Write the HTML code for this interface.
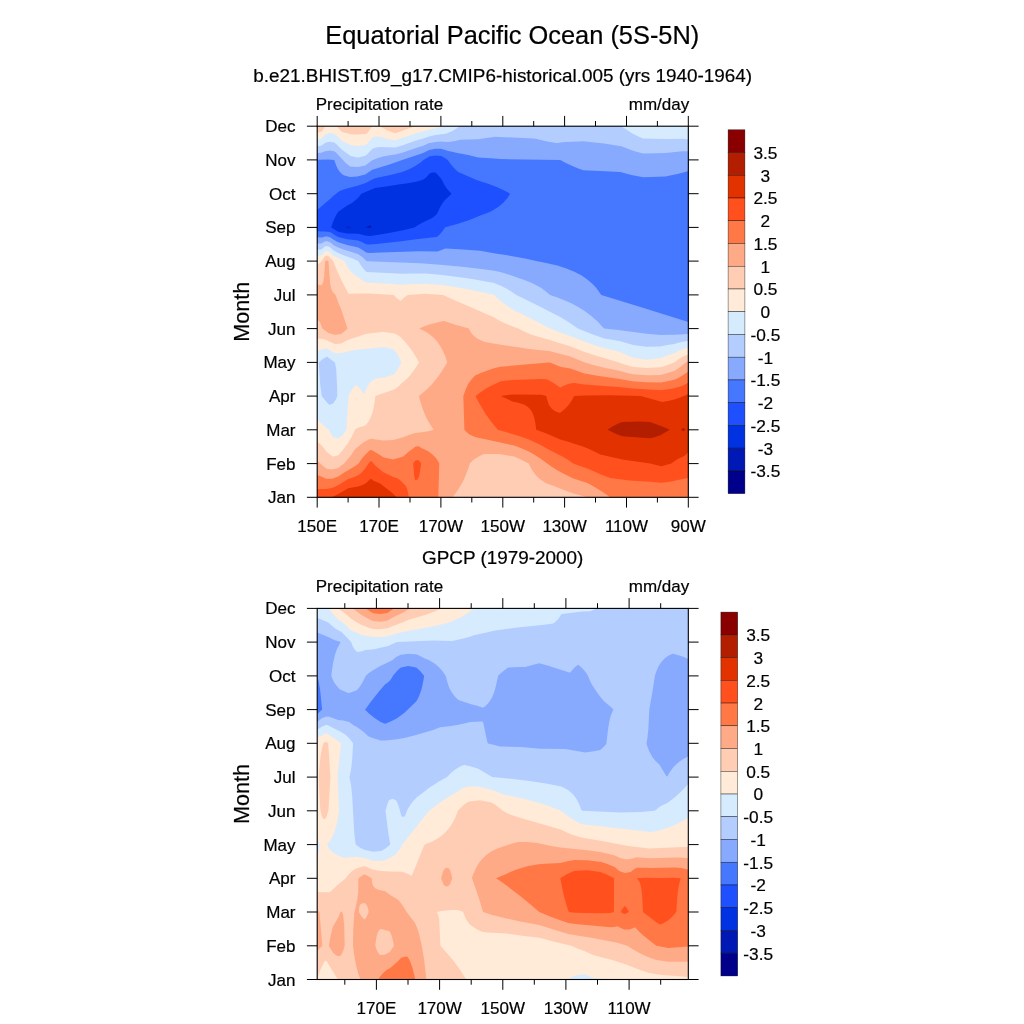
<!DOCTYPE html>
<html lang="en"><head><meta charset="utf-8"><title>Equatorial Pacific Ocean (5S-5N)</title>
<style>html,body{margin:0;padding:0;background:#fff}svg{display:block}</style></head><body>
<svg width="1024" height="1024" viewBox="0 0 1024 1024">
<rect width="1024" height="1024" fill="#fff"/>
<text x="512.3" y="43.9" text-anchor="middle" style="font-family:'Liberation Sans',Arial,Helvetica,sans-serif;stroke:#000;stroke-width:0.2px;font-size:25.4px">Equatorial Pacific Ocean (5S-5N)</text>
<text x="502.7" y="82.3" text-anchor="middle" style="font-family:'Liberation Sans',Arial,Helvetica,sans-serif;stroke:#000;stroke-width:0.2px;font-size:18.9px">b.e21.BHIST.f09_g17.CMIP6-historical.005 (yrs 1940-1964)</text>
<text x="502.7" y="564.4" text-anchor="middle" style="font-family:'Liberation Sans',Arial,Helvetica,sans-serif;stroke:#000;stroke-width:0.2px;font-size:18.9px">GPCP (1979-2000)</text>
<g>
<g shape-rendering="geometricPrecision">
<rect x="317.2" y="126.2" width="371.1" height="371.1" fill="#0019b4"/>
<path fill="#0032e1" fill-rule="evenodd" d="M317.2 497.3L688.3 497.3L688.3 126.2L317.2 126.2ZM348.2 227.6L345.9 227.4L347.2 226.7L348.2 226.7L351.7 227.4ZM365.2 227.4L369.2 225.8L370.2 225.6L371.7 227.4L370.2 227.7Z"/>
<path fill="#1e50ff" fill-rule="evenodd" d="M317.2 497.3L688.3 497.3L688.3 126.2L317.2 126.2ZM338.2 231.7L331.2 227.4L333.2 221.6L335.2 216.9L337.2 213.2L338.2 211.7L347.2 205.6L351.2 203.4L354.2 201.3L358.2 197.7L361.4 193.7L375.2 187.9L386.2 186.5L400.2 184.3L406.2 183.5L412.2 182.5L417.2 181.4L422.2 179.9L424.2 179.0L426.2 177.4L429.2 174.0L430.2 173.3L432.2 172.6L435.2 172.6L436.2 173.2L441.2 178.8L444.2 184.5L446.2 187.7L448.2 190.3L451.5 193.7L448.2 197.0L445.2 199.8L443.2 202.3L440.2 207.1L437.2 213.5L436.2 214.8L432.2 218.0L422.2 222.7L418.2 224.9L414.3 227.4L404.2 230.0L394.2 232.1L383.2 234.1L370.2 236.1L366.2 235.8L358.2 233.8L347.2 233.4Z"/>
<path fill="#4678ff" fill-rule="evenodd" d="M317.2 497.3L688.3 497.3L688.3 126.2L317.2 126.2L317.2 209.9L331.2 197.9L333.2 195.9L336.2 193.7L338.2 192.0L340.2 190.8L345.2 189.0L358.2 185.6L365.2 183.3L372.2 179.4L375.2 178.3L391.2 174.8L402.2 172.0L404.2 171.3L410.2 168.7L415.2 166.1L420.2 162.7L423.5 159.9L429.2 156.6L430.2 156.3L435.2 155.5L441.2 156.0L443.2 157.0L447.9 159.9L449.2 162.0L452.2 165.9L455.2 169.2L458.2 171.9L477.2 180.2L488.2 183.8L497.2 187.3L504.3 190.5L510.2 193.7L507.3 198.2L503.3 202.8L499.2 206.3L494.2 209.6L491.2 211.2L487.2 213.0L480.2 215.4L473.2 218.5L467.2 220.8L457.2 224.1L445.2 227.3L442.2 231.5L440.2 233.9L437.2 236.8L436.2 237.1L414.2 239.4L403.2 241.0L390.2 242.6L376.2 244.0L369.2 244.5L366.2 244.2L362.2 242.2L358.2 240.6L347.2 239.2L338.2 237.0L333.2 234.1L331.2 232.6L329.2 232.0L325.2 231.5L321.2 231.6L317.2 231.0Z"/>
<path fill="#87aaff" fill-rule="evenodd" d="M317.2 497.3L688.3 497.3L688.3 321.9L645.3 308.4L601.3 294.9L596.3 288.1L592.3 283.8L587.3 279.4L581.3 275.3L574.3 271.7L566.3 268.4L557.3 265.6L547.3 263.2L536.2 261.1L527.3 259.0L518.3 257.2L507.3 255.3L495.2 253.6L480.2 250.8L459.2 249.2L445.2 248.5L440.2 250.5L437.2 251.4L436.2 251.5L419.2 251.2L381.2 252.6L370.2 252.9L367.2 252.8L366.2 252.5L362.2 249.7L358.2 247.4L347.2 245.0L338.2 242.3L333.2 239.5L331.2 237.9L329.2 237.0L327.2 236.5L325.2 236.4L322.2 237.4L321.2 237.5L317.2 237.3ZM334.2 159.9L336.2 165.6L338.2 169.7L340.2 172.3L342.2 174.2L343.2 174.9L345.2 175.7L350.2 177.1L357.2 176.5L365.2 174.4L372.2 169.8L373.2 169.4L390.2 164.3L402.2 159.9L423.2 152.9L429.2 149.9L435.2 148.7L441.2 148.7L448.2 151.1L453.2 152.0L458.2 153.3L460.2 153.4L468.2 154.9L478.2 157.4L491.2 158.3L500.2 159.1L560.3 159.9L565.3 162.7L571.3 165.6L578.3 168.4L583.3 170.2L600.3 171.1L620.3 172.0L631.3 174.9L643.3 177.2L665.3 176.5L677.3 174.0L683.3 172.4L688.3 170.9L688.3 126.2L317.2 126.2L317.2 159.7L328.2 159.4Z"/>
<path fill="#b4cdff" fill-rule="evenodd" d="M317.2 497.3L688.3 497.3L688.3 334.1L684.3 334.2L674.3 334.8L660.3 334.9L646.3 333.8L620.3 330.3L604.1 328.6L597.3 321.3L591.3 315.9L584.3 310.7L577.3 306.4L571.3 303.3L564.3 300.2L557.3 297.4L550.1 294.9L545.3 290.9L541.3 288.1L536.3 285.2L531.3 282.7L524.3 279.9L516.3 277.3L510.3 275.0L505.3 273.4L500.2 272.1L494.2 270.8L483.2 269.3L464.2 267.1L443.2 265.0L420.2 263.2L400.2 262.6L367.2 261.2L366.2 260.8L362.2 257.1L358.2 254.2L353.2 252.5L344.2 249.8L338.2 247.6L333.2 244.9L331.2 243.1L329.2 241.9L327.2 241.3L325.2 241.3L322.2 243.1L321.2 243.5L317.2 243.6ZM336.2 152.8L346.2 163.4L350.2 166.5L356.2 167.1L358.2 167.1L365.2 165.5L372.2 160.2L377.2 158.2L383.2 156.5L388.2 155.6L395.2 154.5L402.2 152.7L415.2 148.2L423.2 145.7L429.2 143.1L430.2 142.9L435.2 141.9L441.2 141.5L444.2 141.8L448.2 142.0L455.2 141.0L460.2 139.8L478.2 139.3L495.2 136.7L534.3 138.5L547.3 141.6L556.3 143.0L557.3 143.0L560.3 142.5L565.3 142.1L583.3 141.3L604.3 143.5L621.3 146.2L627.3 148.6L632.3 150.4L638.3 152.2L643.3 153.4L665.3 152.9L682.3 151.2L688.3 151.2L688.3 126.2L317.2 126.2L317.2 152.9L321.2 152.7L325.2 151.2L328.2 150.8L330.2 150.6L334.2 151.3Z"/>
<path fill="#d7ebff" fill-rule="evenodd" d="M317.2 497.3L688.3 497.3L688.3 340.9L684.3 341.4L679.3 342.6L674.3 344.0L667.3 345.1L660.3 346.5L646.3 346.8L633.3 345.0L619.3 341.0L604.3 338.5L592.3 334.2L577.9 328.6L569.3 322.4L559.3 316.4L536.3 304.8L516.3 295.1L511.3 291.5L506.3 288.4L500.2 285.4L494.2 282.9L483.2 280.9L469.2 278.6L442.2 274.9L425.2 273.6L419.2 273.5L401.2 273.7L367.2 272.0L366.2 271.7L363.2 268.5L361.2 265.8L358.2 261.0L353.2 258.8L344.2 255.5L338.2 252.9L333.2 250.3L331.2 248.3L329.2 246.8L327.2 246.2L325.2 246.3L324.2 247.0L322.2 248.9L321.2 249.4L317.2 249.8ZM327.2 402.7L321.7 396.1L320.2 384.5L318.7 362.4L323.2 358.7L326.2 357.0L327.2 356.7L334.2 362.1L335.1 362.4L335.2 363.9L336.2 368.4L337.2 389.3L337.3 396.1L336.2 398.7L335.2 400.6L333.2 403.4L331.2 404.2L329.2 404.7ZM317.2 126.2L317.2 146.2L321.2 145.7L323.2 144.5L325.2 142.8L328.2 142.1L330.2 141.7L334.2 142.6L336.2 143.9L342.2 150.1L347.2 153.5L350.2 155.8L357.2 157.4L358.2 157.4L365.2 155.8L367.2 154.2L372.2 148.9L374.2 148.1L376.2 147.6L380.2 147.0L395.2 147.4L402.2 145.4L415.2 140.8L423.2 138.5L429.2 136.4L435.2 135.1L441.2 134.2L444.2 134.0L447.2 133.2L450.2 132.0L453.2 130.6L456.2 128.8L459.2 126.6L460.0 126.2ZM621.4 126.2L627.3 130.3L632.3 133.4L638.3 136.5L643.3 138.6L665.3 139.0L682.3 138.7L688.3 139.6L688.3 126.2Z"/>
<path fill="#ffebd7" fill-rule="evenodd" d="M317.2 497.3L688.3 497.3L688.3 347.7L685.3 348.3L683.3 349.0L678.3 351.1L674.3 353.2L667.3 355.4L660.3 358.2L646.3 359.7L633.3 357.8L632.3 357.5L625.3 354.2L619.3 351.8L604.3 348.3L598.3 346.4L584.3 341.5L570.3 336.0L560.3 332.5L550.1 328.6L532.3 319.3L519.3 312.7L515.3 311.0L512.3 309.3L507.3 306.0L503.3 303.1L498.2 299.0L494.2 295.1L493.2 294.7L469.2 289.6L443.2 285.0L425.2 283.7L408.2 284.2L400.2 284.7L393.2 284.0L366.2 282.6L363.2 281.0L361.2 279.7L358.2 277.2L354.2 274.5L351.2 271.9L349.2 269.6L348.2 268.2L344.2 261.1L333.2 255.7L331.2 253.5L329.2 251.7L327.2 251.0L325.2 251.2L324.2 252.1L322.2 254.7L321.2 255.3L317.2 256.1L317.2 350.9L319.2 350.4L322.2 349.1L326.2 348.5L327.2 348.5L334.2 353.0L335.2 353.2L341.2 353.1L345.2 352.2L348.2 351.3L355.2 350.0L365.2 348.8L368.2 348.8L383.2 347.1L384.2 347.1L393.2 349.3L394.2 349.7L396.2 352.3L398.2 355.5L401.4 362.4L398.2 368.5L396.2 371.6L394.2 374.2L393.2 374.7L384.2 377.6L375.2 378.8L371.2 381.6L369.2 383.7L367.2 386.9L365.2 391.3L364.2 394.0L363.2 393.3L361.2 390.2L359.2 387.8L356.2 385.0L355.2 385.6L353.2 387.9L350.2 392.4L348.5 396.1L347.2 415.0L346.4 429.8L342.2 435.7L338.2 438.2L337.2 438.3L333.2 437.3L331.2 434.3L329.2 430.5L328.2 429.3L323.2 425.1L317.2 419.4ZM317.2 126.2L317.2 139.5L321.2 138.8L323.2 137.0L325.2 134.5L330.2 132.8L331.2 132.9L334.2 134.0L336.2 135.0L342.2 141.1L350.2 145.0L353.2 145.5L357.2 146.0L358.2 146.0L365.2 144.9L367.2 143.7L372.2 137.6L375.2 136.8L376.2 136.6L380.2 136.7L387.2 138.8L392.2 139.9L395.2 140.3L402.2 138.1L415.2 133.5L429.2 129.7L443.9 126.2ZM682.4 126.2L683.3 126.4L688.3 128.0L688.3 126.2Z"/>
<path fill="#ffcdb4" fill-rule="evenodd" d="M317.2 497.3L688.3 497.3L688.3 354.5L685.3 355.4L682.3 357.0L678.3 359.5L674.3 362.4L666.3 365.4L660.3 367.3L646.3 368.0L632.3 366.8L625.3 364.7L618.3 362.2L601.3 357.3L585.3 352.3L570.3 346.2L559.3 342.9L549.3 339.7L538.3 336.8L530.3 334.2L524.3 331.6L518.3 328.5L511.3 326.0L505.3 323.5L499.2 320.5L493.2 317.1L469.2 306.4L455.2 300.6L443.2 295.0L425.2 293.7L407.9 294.9L406.2 296.0L404.2 297.6L401.2 300.6L400.2 300.7L397.2 298.4L393.7 294.9L370.2 293.4L358.2 293.5L349.2 293.8L348.2 293.3L342.2 281.8L337.2 270.9L333.2 261.1L329.2 256.7L328.2 256.1L327.2 255.8L325.2 256.1L324.2 257.3L322.2 260.4L321.4 261.1L321.2 261.7L317.2 264.9L317.2 338.5L319.2 338.8L322.2 338.8L326.2 339.9L327.2 340.3L329.2 341.6L334.2 343.8L335.2 344.0L341.2 343.5L348.2 339.8L359.2 336.3L365.2 334.0L383.2 331.7L394.2 333.5L397.2 334.8L400.2 336.7L405.2 342.0L409.2 346.9L412.2 351.1L415.2 355.8L419.0 362.4L414.2 370.1L410.2 375.2L406.2 379.4L401.2 383.6L399.2 385.7L397.2 387.4L394.2 389.5L379.2 394.6L375.4 396.1L374.2 404.5L373.2 409.7L372.2 413.5L370.2 418.5L368.2 422.1L366.2 424.4L364.2 426.1L360.2 427.0L358.2 427.7L356.2 428.8L355.2 429.6L351.2 437.5L347.2 444.3L342.2 450.8L338.2 455.2L333.2 456.4L332.2 456.2L329.2 453.7L326.2 451.5L324.2 448.6L321.2 444.9L320.2 443.9L317.2 441.8ZM317.2 126.2L317.2 132.8L321.2 131.8L322.2 130.9L323.2 129.5L325.2 126.2ZM336.3 126.2L342.2 132.1L350.2 134.1L353.2 134.5L357.2 134.6L365.2 133.9L367.2 133.2L372.2 126.3L372.6 126.2ZM379.7 126.2L380.2 126.3L383.2 128.2L387.2 130.3L392.2 132.3L395.2 133.2L415.2 126.2Z"/>
<path fill="#ffaa87" fill-rule="evenodd" d="M317.2 497.3L452.4 497.3L456.2 492.5L458.2 489.6L462.2 482.8L464.2 478.7L466.2 474.1L468.2 468.7L469.8 463.6L473.2 460.1L476.2 457.9L481.2 455.2L484.2 454.1L485.2 454.0L499.2 454.1L514.3 456.6L522.3 460.3L528.7 463.6L530.3 466.8L532.3 470.4L535.3 474.5L537.3 476.7L540.3 479.4L545.3 482.7L547.3 483.8L553.3 485.7L561.3 489.1L568.3 491.7L573.3 493.4L587.1 497.3L688.3 497.3L688.3 361.4L685.7 362.4L680.3 367.0L674.3 371.0L662.3 374.5L660.3 374.9L647.3 375.2L633.3 374.2L627.3 372.9L618.3 370.5L604.3 367.7L592.3 364.7L584.3 362.3L570.3 356.4L549.3 351.0L536.3 349.8L527.3 348.7L518.3 347.2L509.3 346.1L493.2 343.6L485.2 341.9L482.2 340.9L479.2 339.6L477.2 338.5L475.2 337.1L472.2 334.2L470.2 331.2L468.9 328.6L456.2 325.0L444.2 321.0L442.2 321.2L435.2 322.9L430.2 324.3L425.2 326.0L419.1 328.6L425.2 331.6L429.2 334.1L433.2 337.3L437.2 341.6L440.2 345.9L442.2 349.5L445.2 356.0L447.2 362.4L441.2 372.3L438.2 376.5L434.2 381.6L431.2 385.0L427.2 389.0L423.2 392.6L418.9 396.1L420.2 401.1L422.2 407.5L425.2 415.2L427.2 419.4L429.2 423.1L433.6 429.8L431.2 430.6L427.2 431.4L415.2 433.1L408.2 435.3L403.2 437.3L393.2 439.9L383.2 440.6L374.2 439.2L372.2 438.8L370.2 438.9L369.2 439.3L363.2 442.6L355.2 448.9L352.2 453.5L349.2 457.6L344.0 463.6L338.2 468.0L337.2 468.2L332.2 469.5L327.2 468.8L326.2 468.6L323.2 466.2L317.2 460.5ZM322.3 328.6L328.2 332.8L329.2 333.3L334.2 334.7L335.2 334.8L341.2 333.9L344.2 331.6L347.7 328.6L347.2 327.7L341.2 309.3L338.2 302.6L336.2 296.4L335.2 294.4L333.2 292.6L332.2 291.0L331.2 288.4L330.2 283.7L329.2 272.3L328.5 261.1L327.2 260.7L326.2 260.8L325.2 261.1L324.2 275.7L323.2 281.8L322.2 284.6L321.2 285.2L317.2 284.5L317.2 319.2L319.2 321.5L320.2 323.1L321.2 325.2Z"/>
<path fill="#ff7846" fill-rule="evenodd" d="M317.2 497.3L438.3 497.3L439.3 463.6L438.2 461.4L436.2 458.3L432.2 454.3L428.2 451.3L425.2 449.7L421.2 448.0L419.2 446.6L417.2 446.3L415.2 446.8L413.2 448.6L410.2 450.6L407.2 452.9L403.2 456.6L393.2 459.6L383.2 457.3L379.2 454.4L373.2 451.1L372.2 450.2L371.2 450.1L370.2 450.2L369.2 450.8L364.2 455.7L361.2 459.5L358.2 463.9L353.2 467.3L344.2 472.4L338.2 476.6L332.2 478.7L327.2 478.8L326.2 478.7L320.2 476.1L317.2 475.3ZM540.3 458.4L551.3 466.4L557.3 470.2L562.3 473.0L568.3 476.1L573.3 478.5L587.3 482.9L589.3 484.0L595.3 487.4L602.3 491.7L610.2 497.3L688.3 497.3L688.3 371.8L685.3 373.5L683.3 375.1L681.3 376.3L678.3 377.9L674.3 379.7L661.3 382.4L646.3 382.3L632.3 381.3L618.3 378.8L597.3 375.8L586.3 373.8L584.3 373.4L580.3 372.1L570.3 368.5L560.3 366.8L551.3 363.1L549.3 362.4L548.3 362.4L500.2 366.8L493.2 368.6L486.2 370.9L480.2 373.2L475.2 375.5L473.2 377.4L471.2 379.7L468.2 384.1L466.2 388.2L463.3 396.1L464.4 429.8L466.2 431.8L469.2 434.2L472.2 435.8L475.2 436.9L479.2 437.9L484.2 438.9L491.2 440.6L499.2 442.2L514.3 445.6L521.3 448.3L528.3 451.3L533.3 454.0Z"/>
<path fill="#ff501e" fill-rule="evenodd" d="M317.2 497.3L318.2 497.3L408.9 497.3L407.2 489.2L406.2 486.8L405.2 485.2L401.2 481.2L399.2 479.5L397.2 478.3L393.2 477.0L389.2 474.9L383.2 472.3L375.2 465.4L373.2 463.1L372.2 461.7L371.2 461.4L370.2 461.5L369.2 462.4L366.2 467.1L364.2 469.7L361.2 472.9L358.2 475.2L353.2 477.4L348.2 479.1L344.2 481.4L338.2 485.3L332.2 487.9L326.2 488.9L320.2 488.9L317.2 489.4ZM413.2 463.6L414.2 476.2L415.2 480.3L417.2 479.8L419.2 475.9L421.2 463.6L419.2 460.7L417.2 459.9L415.2 460.6ZM573.3 463.6L587.3 468.5L593.3 471.0L600.3 474.3L610.3 477.9L629.3 480.6L650.3 481.7L661.3 482.8L671.3 481.6L680.3 479.6L688.3 478.0L688.3 382.8L683.3 385.6L676.3 387.8L671.3 388.8L661.3 390.2L632.3 388.5L618.3 387.1L584.3 384.4L574.3 383.0L570.3 383.6L568.3 384.1L564.3 385.6L560.3 387.6L559.3 387.1L554.3 383.5L549.3 380.4L546.3 379.3L541.3 379.0L512.3 380.0L501.2 381.3L500.2 381.5L498.2 382.4L491.2 385.7L485.2 389.1L479.2 393.2L475.7 396.1L476.2 397.6L479.2 403.2L485.2 413.2L491.2 421.8L497.8 429.8L518.3 435.8L528.3 439.3L533.3 441.4L540.3 444.8L547.3 448.7L563.3 457.1L568.3 460.0Z"/>
<path fill="#e13200" fill-rule="evenodd" d="M331.9 497.3L396.2 497.3L396.5 497.3L394.2 494.8L390.2 491.2L387.2 488.9L383.2 486.1L380.2 483.5L374.2 481.1L373.2 480.5L372.2 479.4L371.2 479.1L370.2 479.3L366.2 482.9L363.2 484.7L358.2 486.6L348.2 488.2L338.2 493.9ZM650.3 463.6L659.3 465.8L661.3 466.2L671.3 463.6L675.3 460.6L677.3 459.3L680.3 457.7L683.3 456.5L685.3 455.3L688.3 452.3L688.3 393.9L683.3 396.2L675.3 399.2L669.3 400.7L662.3 401.9L640.8 396.1L630.3 395.7L609.3 395.2L585.3 395.4L574.3 396.1L571.3 401.3L568.3 405.4L564.3 409.6L560.3 412.8L559.3 412.8L558.3 412.4L555.3 411.2L553.3 410.0L551.3 408.3L549.3 405.4L548.3 403.3L547.3 400.1L546.3 396.1L543.3 395.2L541.3 394.8L512.3 394.4L500.9 396.1L507.3 399.0L512.3 401.5L518.3 402.7L523.3 404.2L526.3 405.8L529.3 408.2L531.3 410.7L532.3 412.4L533.3 414.7L534.3 417.9L535.3 422.7L536.2 429.8L545.3 433.1L560.3 439.5L568.3 441.8L573.3 443.6L581.3 446.0L587.3 448.2L592.3 450.4L600.3 454.5L622.3 459.4Z"/>
<path fill="#b41e00" fill-rule="evenodd" d="M607.5 429.8L616.3 433.9L622.3 436.3L649.3 438.3L650.3 438.3L654.3 437.3L660.3 435.3L669.8 429.8L665.3 427.8L650.3 422.0L640.3 421.6L622.3 422.0L619.3 423.1L615.3 425.1L611.3 427.3ZM680.9 429.8L683.3 431.3L685.4 429.8L685.3 429.5L683.3 427.9Z"/>
</g>
<rect x="317.2" y="126.2" width="371.1" height="371.1" fill="none" stroke="#000" stroke-width="1.1"/>
<path d="M306.9 497.3H317.2M688.3 497.3H698.6M306.9 463.6H317.2M688.3 463.6H698.6M306.9 429.8H317.2M688.3 429.8H698.6M306.9 396.1H317.2M688.3 396.1H698.6M306.9 362.4H317.2M688.3 362.4H698.6M306.9 328.6H317.2M688.3 328.6H698.6M306.9 294.9H317.2M688.3 294.9H698.6M306.9 261.1H317.2M688.3 261.1H698.6M306.9 227.4H317.2M688.3 227.4H698.6M306.9 193.7H317.2M688.3 193.7H698.6M306.9 159.9H317.2M688.3 159.9H698.6M306.9 126.2H317.2M688.3 126.2H698.6M317.2 126.2V115.9M317.2 497.3V507.6M348.1 126.2V121.0M348.1 497.3V502.5M379.0 126.2V115.9M379.0 497.3V507.6M410.0 126.2V121.0M410.0 497.3V502.5M440.9 126.2V115.9M440.9 497.3V507.6M471.8 126.2V121.0M471.8 497.3V502.5M502.8 126.2V115.9M502.8 497.3V507.6M533.7 126.2V121.0M533.7 497.3V502.5M564.6 126.2V115.9M564.6 497.3V507.6M595.5 126.2V121.0M595.5 497.3V502.5M626.5 126.2V115.9M626.5 497.3V507.6M657.4 126.2V121.0M657.4 497.3V502.5M688.3 126.2V115.9M688.3 497.3V507.6" stroke="#000" stroke-width="1.0" fill="none"/>
<g style="font-family:'Liberation Sans',Arial,Helvetica,sans-serif;stroke:#000;stroke-width:0.2px;font-size:17px" fill="#000">
<text x="295.5" y="503.3" text-anchor="end">Jan</text>
<text x="295.5" y="469.6" text-anchor="end">Feb</text>
<text x="295.5" y="435.8" text-anchor="end">Mar</text>
<text x="295.5" y="402.1" text-anchor="end">Apr</text>
<text x="295.5" y="368.4" text-anchor="end">May</text>
<text x="295.5" y="334.6" text-anchor="end">Jun</text>
<text x="295.5" y="300.9" text-anchor="end">Jul</text>
<text x="295.5" y="267.1" text-anchor="end">Aug</text>
<text x="295.5" y="233.4" text-anchor="end">Sep</text>
<text x="295.5" y="199.7" text-anchor="end">Oct</text>
<text x="295.5" y="165.9" text-anchor="end">Nov</text>
<text x="295.5" y="132.2" text-anchor="end">Dec</text>
<text x="317.2" y="531.7" text-anchor="middle">150E</text>
<text x="379.0" y="531.7" text-anchor="middle">170E</text>
<text x="440.9" y="531.7" text-anchor="middle">170W</text>
<text x="502.8" y="531.7" text-anchor="middle">150W</text>
<text x="564.6" y="531.7" text-anchor="middle">130W</text>
<text x="626.5" y="531.7" text-anchor="middle">110W</text>
<text x="688.3" y="531.7" text-anchor="middle">90W</text>
<text x="315.7" y="110.1">Precipitation rate</text>
<text x="689.2" y="110.1" text-anchor="end">mm/day</text>
</g>
<text transform="translate(248.7 311.8) rotate(-90)" text-anchor="middle" style="font-family:'Liberation Sans',Arial,Helvetica,sans-serif;stroke:#000;stroke-width:0.2px;font-size:21.6px">Month</text>
<rect x="728.1" y="129.80" width="16.8" height="22.74" fill="#8a0000" stroke="#000" stroke-opacity="0.75" stroke-width="0.5"/>
<rect x="728.1" y="152.54" width="16.8" height="22.74" fill="#b41e00" stroke="#000" stroke-opacity="0.75" stroke-width="0.5"/>
<rect x="728.1" y="175.28" width="16.8" height="22.74" fill="#e13200" stroke="#000" stroke-opacity="0.75" stroke-width="0.5"/>
<rect x="728.1" y="198.02" width="16.8" height="22.74" fill="#ff501e" stroke="#000" stroke-opacity="0.75" stroke-width="0.5"/>
<rect x="728.1" y="220.76" width="16.8" height="22.74" fill="#ff7846" stroke="#000" stroke-opacity="0.75" stroke-width="0.5"/>
<rect x="728.1" y="243.50" width="16.8" height="22.74" fill="#ffaa87" stroke="#000" stroke-opacity="0.75" stroke-width="0.5"/>
<rect x="728.1" y="266.24" width="16.8" height="22.74" fill="#ffcdb4" stroke="#000" stroke-opacity="0.75" stroke-width="0.5"/>
<rect x="728.1" y="288.98" width="16.8" height="22.74" fill="#ffebd7" stroke="#000" stroke-opacity="0.75" stroke-width="0.5"/>
<rect x="728.1" y="311.72" width="16.8" height="22.74" fill="#d7ebff" stroke="#000" stroke-opacity="0.75" stroke-width="0.5"/>
<rect x="728.1" y="334.46" width="16.8" height="22.74" fill="#b4cdff" stroke="#000" stroke-opacity="0.75" stroke-width="0.5"/>
<rect x="728.1" y="357.20" width="16.8" height="22.74" fill="#87aaff" stroke="#000" stroke-opacity="0.75" stroke-width="0.5"/>
<rect x="728.1" y="379.94" width="16.8" height="22.74" fill="#4678ff" stroke="#000" stroke-opacity="0.75" stroke-width="0.5"/>
<rect x="728.1" y="402.68" width="16.8" height="22.74" fill="#1e50ff" stroke="#000" stroke-opacity="0.75" stroke-width="0.5"/>
<rect x="728.1" y="425.42" width="16.8" height="22.74" fill="#0032e1" stroke="#000" stroke-opacity="0.75" stroke-width="0.5"/>
<rect x="728.1" y="448.16" width="16.8" height="22.74" fill="#0019b4" stroke="#000" stroke-opacity="0.75" stroke-width="0.5"/>
<rect x="728.1" y="470.90" width="16.8" height="22.74" fill="#00008a" stroke="#000" stroke-opacity="0.75" stroke-width="0.5"/>
<g style="font-family:'Liberation Sans',Arial,Helvetica,sans-serif;stroke:#000;stroke-width:0.2px;font-size:17.3px" fill="#000" text-anchor="middle">
<text x="765.4" y="158.9">3.5</text>
<text x="765.4" y="181.7">3</text>
<text x="765.4" y="204.4">2.5</text>
<text x="765.4" y="227.2">2</text>
<text x="765.4" y="249.9">1.5</text>
<text x="765.4" y="272.6">1</text>
<text x="765.4" y="295.4">0.5</text>
<text x="765.4" y="318.1">0</text>
<text x="765.4" y="340.9">-0.5</text>
<text x="765.4" y="363.6">-1</text>
<text x="765.4" y="386.3">-1.5</text>
<text x="765.4" y="409.1">-2</text>
<text x="765.4" y="431.8">-2.5</text>
<text x="765.4" y="454.6">-3</text>
<text x="765.4" y="477.3">-3.5</text>
</g>
</g>
<g>
<g shape-rendering="geometricPrecision">
<rect x="317.2" y="608.4" width="371.1" height="371.1" fill="#4678ff"/>
<path fill="#87aaff" fill-rule="evenodd" d="M317.2 979.5L688.3 979.5L688.3 608.4L317.2 608.4L317.2 675.9L318.2 679.6L319.2 684.3L320.2 690.6L322.1 709.6L317.2 714.2ZM369.2 713.7L364.9 709.6L365.2 709.4L371.2 701.2L380.2 689.9L385.2 684.2L388.2 682.2L390.2 680.2L392.2 677.2L392.7 675.9L397.2 670.8L400.2 668.0L401.2 667.5L408.2 666.1L416.2 667.4L420.2 671.1L424.2 675.9L423.2 681.6L422.2 686.5L421.2 690.2L419.2 695.7L418.2 697.9L416.2 701.4L407.9 709.6L404.2 713.0L400.2 716.1L396.2 718.7L392.2 720.8L387.2 723.0L385.2 723.8L384.2 723.6L380.2 721.8L374.2 717.8Z"/>
<path fill="#b4cdff" fill-rule="evenodd" d="M317.2 979.5L688.3 979.5L688.3 756.3L684.3 758.4L681.3 760.2L678.3 762.5L676.3 764.2L673.3 767.3L671.3 769.9L669.3 772.7L667.3 776.4L666.3 775.9L659.3 764.6L655.3 760.7L652.3 756.9L649.3 751.4L647.3 746.3L646.5 743.3L647.3 738.8L648.3 729.9L649.3 709.6L652.3 692.6L654.9 675.9L656.3 671.4L658.3 666.7L659.3 664.9L661.3 662.0L664.3 658.8L668.3 655.8L672.3 653.7L673.3 653.7L680.3 655.7L684.3 657.2L688.3 659.0L688.3 608.4L317.2 608.4L317.2 632.5L328.2 637.1L334.2 639.9L340.7 642.1L337.2 648.6L335.2 654.0L333.2 662.4L332.2 668.5L331.3 675.9L332.2 678.3L334.2 682.4L336.2 685.2L339.2 688.7L340.2 689.6L348.2 693.0L349.2 693.0L356.2 690.4L357.2 689.8L359.2 687.4L361.2 684.4L363.2 680.9L365.7 675.9L368.2 673.5L372.2 670.7L380.2 666.0L388.2 662.3L392.2 660.2L396.2 657.1L400.2 655.0L401.2 654.7L408.2 653.8L410.2 653.9L416.2 654.3L419.2 655.5L424.2 658.2L428.2 659.8L432.2 661.9L435.2 663.9L438.2 666.4L442.2 670.7L445.8 675.9L447.2 681.6L448.2 684.8L449.2 687.4L451.2 691.5L454.2 695.8L456.2 698.0L458.2 699.7L459.2 700.3L471.2 704.3L477.2 705.8L482.2 707.4L483.2 707.5L485.2 706.2L488.2 703.2L490.2 700.5L492.2 697.0L494.2 692.0L495.2 688.7L498.2 675.4L502.2 671.9L507.3 667.9L508.3 667.6L519.3 666.9L525.3 667.0L533.3 664.7L539.3 663.3L548.3 665.8L569.3 672.5L570.3 672.4L572.3 669.9L574.3 667.8L577.3 665.2L578.3 664.8L582.3 668.3L584.3 670.5L586.3 673.1L588.3 676.4L590.3 681.4L592.3 685.2L597.3 692.8L600.3 696.8L604.3 701.4L610.3 706.5L613.3 709.3L613.4 709.6L611.3 714.5L610.3 717.6L609.3 721.7L608.3 727.5L606.3 743.9L603.3 747.3L600.3 749.9L599.3 750.2L595.3 751.0L585.3 752.5L565.3 749.1L540.3 748.8L520.3 746.9L500.2 746.5L488.2 743.5L487.8 743.3L487.2 741.5L483.2 722.6L482.2 721.6L470.2 721.9L463.2 723.7L457.2 725.0L449.2 726.2L440.2 727.3L433.2 729.9L427.2 731.8L414.2 735.5L404.2 737.9L397.2 739.2L385.2 740.5L380.2 740.4L379.2 740.1L373.2 738.3L368.2 736.3L365.2 733.2L361.2 730.0L357.2 727.3L353.2 724.9L349.2 722.0L348.2 721.7L343.2 720.6L338.2 720.0L329.2 716.8L328.2 716.5L327.2 716.5L325.2 716.9L322.2 718.1L317.2 722.0Z"/>
<path fill="#d7ebff" fill-rule="evenodd" d="M317.2 979.5L688.3 979.5L688.3 783.8L684.3 788.3L680.3 792.3L676.3 796.0L672.3 799.3L667.3 803.0L662.3 805.2L659.3 806.9L655.3 810.4L654.5 810.8L640.3 811.9L620.3 812.4L582.3 810.8L581.3 809.8L579.3 804.4L577.3 800.4L575.3 797.3L573.3 794.8L571.3 792.8L568.3 790.3L565.3 788.4L561.3 786.5L547.3 783.8L531.3 781.3L513.3 779.1L492.2 777.1L478.2 768.8L470.2 766.2L464.2 764.9L463.2 765.2L460.2 766.6L455.2 769.6L451.2 772.8L447.1 777.1L438.2 782.1L429.2 787.8L423.2 792.6L417.2 797.0L413.2 801.0L410.2 804.9L407.2 810.0L405.2 815.4L404.2 816.5L403.2 817.1L402.2 816.7L401.2 815.3L399.2 808.0L398.2 805.0L397.2 802.4L396.2 800.5L393.2 798.9L392.2 798.9L389.2 800.1L388.2 802.1L387.2 804.7L385.5 810.8L388.2 832.3L390.2 844.6L386.2 848.0L382.2 850.6L381.2 851.0L380.2 851.1L373.2 851.7L372.2 851.6L364.2 849.7L360.2 847.7L355.6 844.6L354.2 832.2L352.2 796.4L351.2 786.5L349.5 777.1L351.2 768.6L352.2 759.0L353.1 743.3L350.2 739.4L348.2 737.2L345.2 734.5L341.2 731.9L337.2 730.1L331.2 726.9L327.2 725.1L326.2 725.0L325.2 725.2L323.2 726.3L322.2 726.6L317.2 729.7ZM351.2 642.1L352.2 645.1L354.2 648.9L356.2 651.3L357.2 652.0L362.2 651.3L365.2 650.1L366.2 649.9L374.2 649.3L380.2 647.7L387.2 646.2L388.2 646.0L396.2 642.3L397.2 642.1L433.2 640.4L452.2 640.9L462.2 638.8L468.2 637.2L474.2 635.3L495.2 630.4L517.3 627.6L544.3 624.8L553.3 623.4L554.3 622.8L557.3 619.9L559.3 617.4L561.3 614.3L562.3 613.9L582.3 611.6L590.3 611.3L596.5 608.4L317.2 608.4L317.2 617.8L328.2 622.6L329.2 623.2L332.2 626.0L335.2 628.4L338.2 630.3L341.2 631.8L346.2 636.7Z"/>
<path fill="#ffebd7" fill-rule="evenodd" d="M317.2 979.5L567.3 979.5L571.3 977.2L575.3 975.5L583.3 974.3L584.3 974.3L593.3 978.1L611.6 979.5L688.3 979.5L688.3 817.6L684.3 820.1L680.3 822.3L675.3 824.7L670.3 826.7L663.3 829.2L656.3 831.2L654.3 831.6L650.3 832.0L629.3 829.4L582.3 824.3L581.3 824.1L578.3 822.6L571.3 818.6L566.3 815.1L561.3 810.9L555.3 808.5L547.3 805.6L537.3 802.5L527.3 799.8L515.3 797.0L503.3 794.5L497.2 791.9L491.2 789.7L480.2 787.1L477.2 786.8L469.2 786.6L464.2 787.4L463.2 787.9L458.2 791.2L450.2 795.9L444.2 799.7L436.2 805.4L429.2 810.7L407.2 838.3L405.2 841.1L402.2 844.5L400.2 848.4L398.2 851.3L396.2 853.6L394.2 855.4L390.2 858.1L385.2 860.0L381.2 861.0L373.2 860.8L371.2 860.3L365.2 858.1L356.2 856.7L353.2 856.9L345.2 857.7L341.2 856.7L338.2 855.6L335.2 854.1L333.2 852.8L330.2 849.9L328.2 847.0L327.2 845.0L327.2 844.3L329.2 842.0L331.2 839.0L333.2 835.1L334.2 832.6L336.2 826.3L337.2 822.1L339.1 810.8L337.6 777.1L338.2 769.7L341.0 743.3L335.2 738.9L327.2 733.8L326.2 733.5L325.2 733.6L324.2 734.1L323.2 734.9L317.2 737.4L317.2 839.5L319.8 844.6L319.2 848.8L317.2 857.4ZM328.6 608.4L329.2 608.9L333.2 614.2L336.2 617.5L338.2 619.4L341.2 621.2L342.2 622.0L347.2 626.5L351.2 630.4L357.2 633.1L362.2 635.1L370.2 636.6L374.2 637.1L380.2 636.9L387.2 636.3L397.2 633.2L403.2 632.0L410.2 630.4L419.2 629.0L428.2 627.3L439.2 625.0L447.2 622.9L452.2 621.3L460.2 617.4L466.2 613.9L474.0 608.4Z"/>
<path fill="#ffcdb4" fill-rule="evenodd" d="M317.2 891.9L317.2 977.9L320.2 970.3L324.2 962.0L325.2 960.6L326.2 960.9L327.2 961.9L329.2 965.6L337.9 979.5L466.2 979.5L460.2 970.1L454.2 961.8L448.2 954.4L440.4 945.8L439.2 919.5L438.2 914.9L436.9 912.0L441.2 911.1L446.2 910.6L450.2 910.0L457.2 909.9L460.2 910.8L463.2 912.0L465.2 917.5L466.2 919.6L468.2 922.6L470.2 924.7L476.2 928.9L479.2 930.5L482.2 931.8L483.2 932.0L488.2 932.4L506.3 933.6L520.3 935.5L539.3 937.7L554.3 941.8L571.4 945.8L577.3 948.6L584.3 951.1L593.3 954.9L602.3 957.6L612.3 960.1L627.3 965.0L637.3 969.1L649.3 973.1L656.3 974.3L663.3 975.1L688.3 977.0L688.3 846.8L649.3 848.4L628.3 845.9L603.3 841.2L581.3 837.5L575.3 835.7L570.3 833.9L565.3 831.8L561.3 829.7L538.3 823.0L522.3 818.6L511.3 815.0L507.3 813.3L503.3 811.1L497.2 806.3L493.2 803.6L491.2 802.5L480.2 800.3L469.2 801.4L467.2 802.5L464.2 804.6L457.8 810.8L457.2 812.7L455.2 817.7L452.2 823.5L449.2 827.9L445.2 832.5L441.2 836.0L437.2 838.7L431.2 841.9L425.2 844.3L424.2 845.3L415.2 867.5L412.2 874.5L411.2 875.9L409.2 874.4L407.2 873.4L402.2 871.8L390.2 871.6L381.2 871.0L372.2 869.6L365.2 866.3L364.2 866.2L360.2 867.2L356.2 868.6L352.2 871.1L350.2 872.8L348.2 874.9L345.2 878.7L337.2 885.2L330.2 891.9L329.2 892.2L320.2 892.2ZM320.4 810.8L322.2 817.0L323.2 818.7L324.2 819.3L325.2 818.8L326.2 817.4L328.4 810.8L330.4 777.1L329.2 757.5L328.1 743.3L327.2 742.4L326.2 741.9L325.2 741.9L324.2 742.5L323.3 743.3L321.2 752.0L320.2 758.9L319.2 770.2L318.7 777.1L319.2 789.7ZM338.2 608.4L345.2 613.6L351.2 618.7L356.2 621.9L361.2 624.7L368.2 627.5L373.2 629.1L379.2 629.3L386.2 628.6L388.2 628.1L394.2 625.5L403.2 622.2L409.2 619.6L419.2 616.8L427.2 614.3L435.2 611.2L441.2 608.4Z"/>
<path fill="#ffaa87" fill-rule="evenodd" d="M317.2 909.7L317.2 951.2L319.2 948.8L322.3 945.8L319.5 912.0ZM328.9 945.8L332.2 951.6L333.2 952.9L336.2 955.3L337.2 955.9L338.2 956.0L340.2 955.9L341.2 955.1L343.2 951.0L344.7 945.8L344.2 925.2L343.2 915.2L342.2 912.0L341.2 911.6L340.5 912.0L340.2 912.6L339.2 915.4L338.2 917.6L333.2 926.3L332.2 929.1L330.2 937.8ZM353.0 945.8L354.2 955.2L356.2 966.0L358.2 973.5L360.4 979.5L426.4 979.5L424.2 960.0L421.8 945.8L419.2 934.4L417.2 928.1L415.2 923.4L414.2 921.8L410.2 916.8L407.2 912.7L402.2 904.8L398.2 899.7L390.2 894.9L385.2 891.3L379.2 890.0L377.2 889.3L375.2 888.2L374.2 887.2L373.2 885.9L372.2 883.1L371.7 878.3L365.2 874.5L364.2 874.4L363.2 875.0L360.2 876.9L358.4 878.3L358.2 892.3L357.2 900.1L355.2 909.3L354.4 912.0L354.2 913.5L353.2 930.4ZM361.2 916.0L358.9 912.0L359.2 907.6L360.2 904.6L361.2 903.8L362.2 903.5L364.2 903.1L365.2 903.6L366.2 904.6L367.2 906.2L368.2 909.3L368.7 912.0L367.2 915.6L365.2 919.0L364.2 919.3L363.2 918.3ZM376.2 948.6L375.3 945.8L376.2 938.5L377.2 934.3L378.2 931.7L379.2 930.0L380.2 929.1L384.2 929.8L385.2 930.2L389.2 930.9L390.2 932.6L391.2 934.8L392.2 937.8L393.2 941.9L393.9 945.8L391.2 950.0L389.2 952.6L387.2 953.3L385.2 954.4L384.2 954.8L380.2 954.9L379.2 954.1L378.2 952.8L377.2 951.0ZM627.0 945.8L635.3 950.7L642.3 954.4L650.3 958.0L656.3 960.1L668.3 961.8L688.3 961.7L688.3 858.3L680.3 857.5L674.3 857.4L650.3 858.2L636.3 857.3L630.3 859.1L625.3 859.2L620.3 858.0L615.3 855.7L613.3 854.9L600.3 851.9L587.3 850.2L560.3 847.6L551.3 846.0L537.3 842.9L527.3 841.9L518.3 842.1L511.3 843.8L500.2 847.5L496.2 849.0L491.2 851.6L486.2 855.1L482.2 858.9L479.2 862.6L476.2 867.5L473.2 874.2L472.2 876.9L472.0 878.3L477.2 893.0L480.2 902.5L482.2 909.6L483.2 912.1L492.2 915.0L501.2 917.2L520.3 921.4L539.3 924.9L553.3 929.6L568.3 934.0L575.3 935.3L591.3 937.8L604.3 940.2L617.3 942.8ZM441.1 878.3L443.2 883.8L444.2 885.5L446.2 886.4L447.2 886.4L449.2 885.3L450.2 883.7L452.3 878.3L451.2 873.8L450.2 870.6L449.2 868.6L447.2 867.7L446.2 867.8L444.2 869.2L443.2 871.3ZM353.0 608.4L357.2 611.8L361.2 614.7L364.2 616.6L370.2 619.8L373.2 621.1L380.2 621.7L387.2 620.7L394.2 616.8L402.2 612.9L409.8 608.4Z"/>
<path fill="#ff7846" fill-rule="evenodd" d="M378.1 979.5L415.2 979.5L414.2 974.6L412.2 967.0L410.2 961.6L408.2 957.7L407.2 956.7L406.2 956.4L401.2 957.7L398.2 960.9L393.2 965.6L389.2 968.7L387.2 969.4L383.2 973.1L380.2 976.4ZM656.3 945.8L668.3 947.9L688.3 946.4L688.3 869.8L681.3 868.0L675.3 867.6L650.3 868.0L645.3 867.8L637.3 867.8L636.3 867.9L633.3 869.8L631.3 871.4L630.3 871.9L625.3 873.0L620.3 871.6L619.3 871.0L614.3 866.8L613.3 866.4L607.3 864.1L601.3 862.1L587.3 860.2L574.3 860.0L567.3 861.2L560.3 863.0L545.3 863.7L538.3 864.3L527.3 866.3L517.3 869.3L507.3 873.4L496.2 878.3L507.3 886.1L518.3 894.5L529.3 903.4L539.3 912.0L542.3 913.3L551.3 916.9L560.3 920.2L568.3 922.9L571.3 923.5L575.3 924.1L610.3 927.2L614.3 927.1L617.3 926.3L621.3 928.2L624.3 929.5L625.3 929.6L629.3 929.4L632.3 928.5L634.3 927.6L635.3 927.6L639.3 931.7L643.3 935.5ZM366.0 608.4L370.2 611.4L373.2 613.2L380.2 614.1L387.2 612.9L394.0 608.4Z"/>
<path fill="#ff501e" fill-rule="evenodd" d="M569.0 912.0L575.3 912.8L600.3 913.2L610.3 913.0L613.9 912.0L614.0 878.3L607.3 874.8L600.3 871.9L587.3 870.3L574.3 871.1L573.3 871.3L566.3 874.6L560.3 878.3L562.3 888.4L564.3 897.0L567.3 907.7L568.3 910.8ZM620.7 912.0L624.3 913.9L625.3 914.0L628.8 912.0L628.3 910.6L626.3 907.6L625.3 906.4L624.3 906.2L622.3 908.9ZM643.0 912.0L656.3 922.3L659.3 924.1L660.3 924.4L663.3 923.2L666.3 921.6L668.3 920.3L670.3 918.6L673.3 915.6L676.3 912.0L677.3 896.7L678.3 888.5L679.3 883.4L680.6 878.3L674.3 877.7L660.3 877.9L645.3 877.7L636.9 878.3L639.3 881.6L640.3 884.0L641.3 888.2L642.3 897.5Z"/>
</g>
<rect x="317.2" y="608.4" width="371.1" height="371.1" fill="none" stroke="#000" stroke-width="1.1"/>
<path d="M306.9 979.5H317.2M688.3 979.5H698.6M306.9 945.8H317.2M688.3 945.8H698.6M306.9 912.0H317.2M688.3 912.0H698.6M306.9 878.3H317.2M688.3 878.3H698.6M306.9 844.6H317.2M688.3 844.6H698.6M306.9 810.8H317.2M688.3 810.8H698.6M306.9 777.1H317.2M688.3 777.1H698.6M306.9 743.3H317.2M688.3 743.3H698.6M306.9 709.6H317.2M688.3 709.6H698.6M306.9 675.9H317.2M688.3 675.9H698.6M306.9 642.1H317.2M688.3 642.1H698.6M306.9 608.4H317.2M688.3 608.4H698.6M344.8 608.4V603.2M344.8 979.5V984.7M376.4 608.4V598.1M376.4 979.5V989.8M408.0 608.4V603.2M408.0 979.5V984.7M439.6 608.4V598.1M439.6 979.5V989.8M471.2 608.4V603.2M471.2 979.5V984.7M502.8 608.4V598.1M502.8 979.5V989.8M534.3 608.4V603.2M534.3 979.5V984.7M565.9 608.4V598.1M565.9 979.5V989.8M597.5 608.4V603.2M597.5 979.5V984.7M629.1 608.4V598.1M629.1 979.5V989.8M660.7 608.4V603.2M660.7 979.5V984.7" stroke="#000" stroke-width="1.0" fill="none"/>
<g style="font-family:'Liberation Sans',Arial,Helvetica,sans-serif;stroke:#000;stroke-width:0.2px;font-size:17px" fill="#000">
<text x="295.5" y="985.5" text-anchor="end">Jan</text>
<text x="295.5" y="951.8" text-anchor="end">Feb</text>
<text x="295.5" y="918.0" text-anchor="end">Mar</text>
<text x="295.5" y="884.3" text-anchor="end">Apr</text>
<text x="295.5" y="850.6" text-anchor="end">May</text>
<text x="295.5" y="816.8" text-anchor="end">Jun</text>
<text x="295.5" y="783.1" text-anchor="end">Jul</text>
<text x="295.5" y="749.3" text-anchor="end">Aug</text>
<text x="295.5" y="715.6" text-anchor="end">Sep</text>
<text x="295.5" y="681.9" text-anchor="end">Oct</text>
<text x="295.5" y="648.1" text-anchor="end">Nov</text>
<text x="295.5" y="614.4" text-anchor="end">Dec</text>
<text x="376.4" y="1013.9" text-anchor="middle">170E</text>
<text x="439.6" y="1013.9" text-anchor="middle">170W</text>
<text x="502.8" y="1013.9" text-anchor="middle">150W</text>
<text x="565.9" y="1013.9" text-anchor="middle">130W</text>
<text x="629.1" y="1013.9" text-anchor="middle">110W</text>
<text x="315.7" y="592.3">Precipitation rate</text>
<text x="689.2" y="592.3" text-anchor="end">mm/day</text>
</g>
<text transform="translate(248.7 794.0) rotate(-90)" text-anchor="middle" style="font-family:'Liberation Sans',Arial,Helvetica,sans-serif;stroke:#000;stroke-width:0.2px;font-size:21.6px">Month</text>
<rect x="720.9" y="612.10" width="16.8" height="22.74" fill="#8a0000" stroke="#000" stroke-opacity="0.75" stroke-width="0.5"/>
<rect x="720.9" y="634.84" width="16.8" height="22.74" fill="#b41e00" stroke="#000" stroke-opacity="0.75" stroke-width="0.5"/>
<rect x="720.9" y="657.58" width="16.8" height="22.74" fill="#e13200" stroke="#000" stroke-opacity="0.75" stroke-width="0.5"/>
<rect x="720.9" y="680.32" width="16.8" height="22.74" fill="#ff501e" stroke="#000" stroke-opacity="0.75" stroke-width="0.5"/>
<rect x="720.9" y="703.06" width="16.8" height="22.74" fill="#ff7846" stroke="#000" stroke-opacity="0.75" stroke-width="0.5"/>
<rect x="720.9" y="725.80" width="16.8" height="22.74" fill="#ffaa87" stroke="#000" stroke-opacity="0.75" stroke-width="0.5"/>
<rect x="720.9" y="748.54" width="16.8" height="22.74" fill="#ffcdb4" stroke="#000" stroke-opacity="0.75" stroke-width="0.5"/>
<rect x="720.9" y="771.28" width="16.8" height="22.74" fill="#ffebd7" stroke="#000" stroke-opacity="0.75" stroke-width="0.5"/>
<rect x="720.9" y="794.02" width="16.8" height="22.74" fill="#d7ebff" stroke="#000" stroke-opacity="0.75" stroke-width="0.5"/>
<rect x="720.9" y="816.76" width="16.8" height="22.74" fill="#b4cdff" stroke="#000" stroke-opacity="0.75" stroke-width="0.5"/>
<rect x="720.9" y="839.50" width="16.8" height="22.74" fill="#87aaff" stroke="#000" stroke-opacity="0.75" stroke-width="0.5"/>
<rect x="720.9" y="862.24" width="16.8" height="22.74" fill="#4678ff" stroke="#000" stroke-opacity="0.75" stroke-width="0.5"/>
<rect x="720.9" y="884.98" width="16.8" height="22.74" fill="#1e50ff" stroke="#000" stroke-opacity="0.75" stroke-width="0.5"/>
<rect x="720.9" y="907.72" width="16.8" height="22.74" fill="#0032e1" stroke="#000" stroke-opacity="0.75" stroke-width="0.5"/>
<rect x="720.9" y="930.46" width="16.8" height="22.74" fill="#0019b4" stroke="#000" stroke-opacity="0.75" stroke-width="0.5"/>
<rect x="720.9" y="953.20" width="16.8" height="22.74" fill="#00008a" stroke="#000" stroke-opacity="0.75" stroke-width="0.5"/>
<g style="font-family:'Liberation Sans',Arial,Helvetica,sans-serif;stroke:#000;stroke-width:0.2px;font-size:17.3px" fill="#000" text-anchor="middle">
<text x="758.2" y="641.2">3.5</text>
<text x="758.2" y="664.0">3</text>
<text x="758.2" y="686.7">2.5</text>
<text x="758.2" y="709.5">2</text>
<text x="758.2" y="732.2">1.5</text>
<text x="758.2" y="754.9">1</text>
<text x="758.2" y="777.7">0.5</text>
<text x="758.2" y="800.4">0</text>
<text x="758.2" y="823.2">-0.5</text>
<text x="758.2" y="845.9">-1</text>
<text x="758.2" y="868.6">-1.5</text>
<text x="758.2" y="891.4">-2</text>
<text x="758.2" y="914.1">-2.5</text>
<text x="758.2" y="936.9">-3</text>
<text x="758.2" y="959.6">-3.5</text>
</g>
</g>
</svg></body></html>
